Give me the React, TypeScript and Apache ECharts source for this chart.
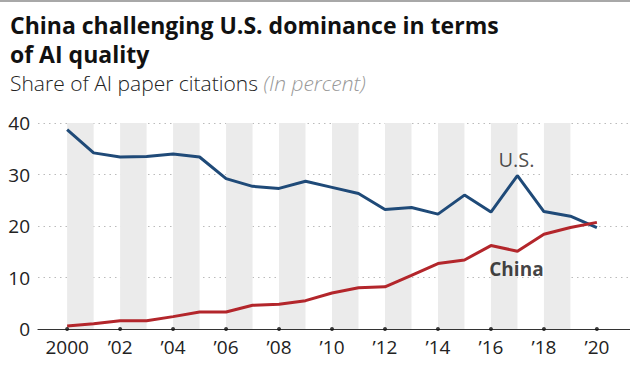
import React, { useEffect, useRef } from "react";
import * as echarts from "echarts";

const years = [2000, 2001, 2002, 2003, 2004, 2005, 2006, 2007, 2008, 2009, 2010, 2011, 2012, 2013, 2014, 2015, 2016, 2017, 2018, 2019, 2020];
const usShare = [38.7, 34.2, 33.4, 33.5, 34.0, 33.4, 29.2, 27.7, 27.3, 28.7, 27.5, 26.3, 23.2, 23.6, 22.3, 26.0, 22.7, 29.8, 22.8, 21.9, 19.7];
const chinaShare = [0.6, 1.0, 1.6, 1.6, 2.4, 3.3, 3.3, 4.6, 4.8, 5.5, 7.0, 8.0, 8.2, 10.4, 12.7, 13.4, 16.2, 15.1, 18.4, 19.7, 20.7];
const tickYears = [2000, 2002, 2004, 2006, 2008, 2010, 2012, 2014, 2016, 2018, 2020];
const tickLabels = ["2000", "\u201902", "\u201904", "\u201906", "\u201908", "\u201910", "\u201912", "\u201914", "\u201916", "\u201918", "\u201920"];
const bandStarts = [2000, 2002, 2004, 2006, 2008, 2010, 2012, 2014, 2016, 2018];

const FONT = "'Open Sans', 'Noto Sans', sans-serif";

export default function App() {
  const ref = useRef<HTMLDivElement>(null);
  useEffect(() => {
    document.body.style.margin = "0";
    const chart = echarts.init(ref.current!, null, { renderer: "svg" });
    chart.setOption({
      animation: false,
      backgroundColor: "#fff",
      textStyle: { fontFamily: FONT },
      grid: { left: 38, right: 0, top: 123, bottom: 36 },
      graphic: [
        { type: "rect", shape: { x: 0, y: 0, width: 630, height: 2 }, style: { fill: "#a8a8a8" } },
        {
          type: "text", left: 10, top: 12,
          style: { text: "China challenging U.S. dominance in terms", font: `bold 23px ${FONT}`, fill: "#111", lineHeight: 26 },
        },
        {
          type: "text", left: 10, top: 41,
          style: { text: "of AI quality", font: `bold 23px ${FONT}`, fill: "#111", lineHeight: 26 },
        },
        {
          type: "text", left: 10, top: 72,
          style: {
            text: "{a|Share of AI paper citations }{b|(In percent)}",
            rich: {
              a: { font: `300 21px ${FONT}`, fill: "#222" },
              b: { font: `italic 300 21px ${FONT}`, fill: "#999" },
            },
          },
        },
      ],
      xAxis: {
        type: "value",
        min: 1998.9,
        max: 2021.25,
        axisLine: { show: true, lineStyle: { color: "#333", width: 1.2 } },
        axisTick: { show: false },
        splitLine: { show: false },
        axisLabel: {
          customValues: tickYears,
          formatter: (v: number) => tickLabels[tickYears.indexOf(Math.round(v))] ?? "",
          fontSize: 19, color: "#222", margin: 8, fontFamily: FONT,
        },
      },
      yAxis: {
        type: "value", min: 0, max: 40, interval: 10,
        axisLine: { show: false }, axisTick: { show: false },
        axisLabel: { fontSize: 19, color: "#222", margin: 8, fontFamily: FONT },
        splitLine: { lineStyle: { color: "#bbb", type: [1.5, 4], width: 1 } },
      },
      series: [
        {
          type: "line", name: "bands", data: [], silent: true,
          markArea: {
            silent: true,
            itemStyle: { color: "#ebebeb" },
            data: bandStarts.map((s) => [{ xAxis: s, yAxis: 0 }, { xAxis: s + 1, yAxis: 40 }]),
          },
        },
        {
          type: "line", name: "U.S.", data: years.map((y, i) => [y, usShare[i]]),
          showSymbol: false, lineStyle: { color: "#1f4a78", width: 3 }, z: 3,
        },
        {
          type: "line", name: "China", data: years.map((y, i) => [y, chinaShare[i]]),
          showSymbol: false, lineStyle: { color: "#b3262b", width: 3 }, z: 4,
        },
        {
          type: "scatter", data: tickYears.map((y) => [y, 0]), symbolSize: 4,
          itemStyle: { color: "#111" }, z: 5, silent: true,
        },
        {
          type: "scatter", data: [[2017, 29.8]], symbolSize: 0, silent: true,
          label: { show: true, position: "top", distance: 6, formatter: "U.S.", fontSize: 20, color: "#222", fontFamily: FONT, offset: [-1, 0] },
        },
        {
          type: "scatter", data: [[2017, 15.1]], symbolSize: 0, silent: true,
          label: { show: true, position: "bottom", distance: 8, formatter: "China", fontSize: 19, fontWeight: "bold", color: "#111", fontFamily: FONT, offset: [-1, 0] },
        },
      ],
    });
    return () => chart.dispose();
  }, []);
  return <div ref={ref} style={{ width: 630, height: 365, position: "absolute", left: 0, top: 0 }} />;
}
